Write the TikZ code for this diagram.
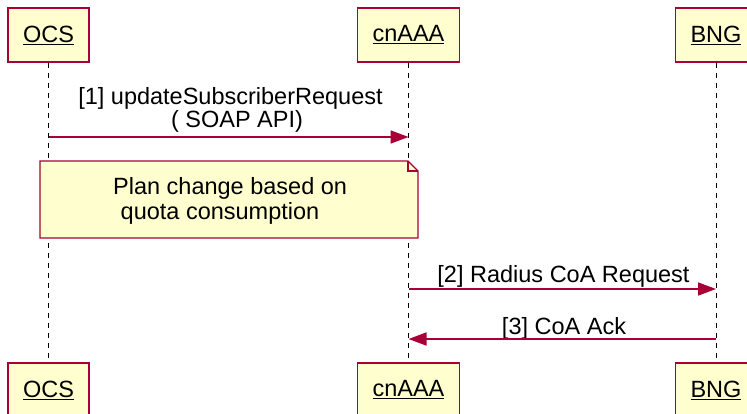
\documentclass[tikz,border=0pt]{standalone}
\usepackage{fontspec}
\setmainfont{Liberation Sans}
\usetikzlibrary{arrows.meta}
\definecolor{seqborder}{HTML}{A80036}
\definecolor{seqfill}{HTML}{FEFECE}
\tikzset{
  party/.style={draw=seqborder, fill=seqfill, line width=1.6pt,
    minimum height=54pt, inner sep=0pt, font=\fontsize{23.5}{28}\selectfont},
  lifeline/.style={draw=black, line width=1pt, dash pattern=on 5pt off 5pt},
  msg/.style={draw=seqborder, line width=1.6pt,
    -{Triangle[length=18pt,width=13pt]}},
  msgtext/.style={anchor=base, inner sep=0pt, font=\fontsize{23.5}{28}\selectfont},
  notebox/.style={draw=seqborder, fill=seqfill, line width=1.4pt, line join=miter},
}
\begin{document}
\begin{tikzpicture}[x=1pt, y=-1pt]
  \useasboundingbox (0,0) rectangle (747,414);

  % participants, top and bottom
  \node[party, minimum width=81pt]  (ocsT) at (48.5,35)  {\underline{OCS}};
  \node[party, minimum width=102pt] (aaaT) at (408.5,35) {\underline{cnAAA}};
  \node[party, minimum width=81pt]  (bngT) at (716,35)   {\underline{BNG}};
  \node[party, minimum width=81pt]  (ocsB) at (48.5,390) {\underline{OCS}};
  \node[party, minimum width=102pt] (aaaB) at (408.5,390) {\underline{cnAAA}};
  \node[party, minimum width=81pt]  (bngB) at (716,390)  {\underline{BNG}};

  % lifelines
  \draw[lifeline] (ocsT.south) -- (ocsB.north);
  \draw[lifeline] (aaaT.south) -- (aaaB.north);
  \draw[lifeline] (bngT.south) -- (bngB.north);

  % message endpoints on the lifelines
  \coordinate (m1a) at (ocsT.center |- 0,137);
  \coordinate (m1b) at (aaaT.center |- 0,137);
  \coordinate (m2a) at (aaaT.center |- 0,289);
  \coordinate (m2b) at (bngT.center |- 0,289);
  \coordinate (m3a) at (bngT.center |- 0,339);
  \coordinate (m3b) at (aaaT.center |- 0,339);

  % [1] OCS -> cnAAA
  \node[msgtext] (m1l1) at (230.5,105) {[1] updateSubscriberRequest};
  \node[msgtext] (m1l2) at (237,128) {( SOAP API)};
  \draw[msg] (m1a) -- (m1b);

  % note with folded corner
  \draw[notebox] (40,161) -- (408,161) -- (418,171) -- (418,238) -- (40,238) -- cycle;
  \draw[notebox, fill=none] (408,161) -- (408,171) -- (418,171);
  \node[msgtext, anchor=base west] (n1) at (113,195) {Plan change based on};
  \node[msgtext, anchor=base west] (n2) at (120.5,220) {quota consumption};

  % [2] cnAAA -> BNG
  \node[msgtext] (m2l) at (563.5,283) {[2] Radius CoA Request};
  \draw[msg] (m2a) -- (m2b);

  % [3] BNG -> cnAAA
  \node[msgtext] (m3l) at (564,334) {[3] CoA Ack};
  \draw[msg] (m3a) -- (m3b);
\end{tikzpicture}
\end{document}
